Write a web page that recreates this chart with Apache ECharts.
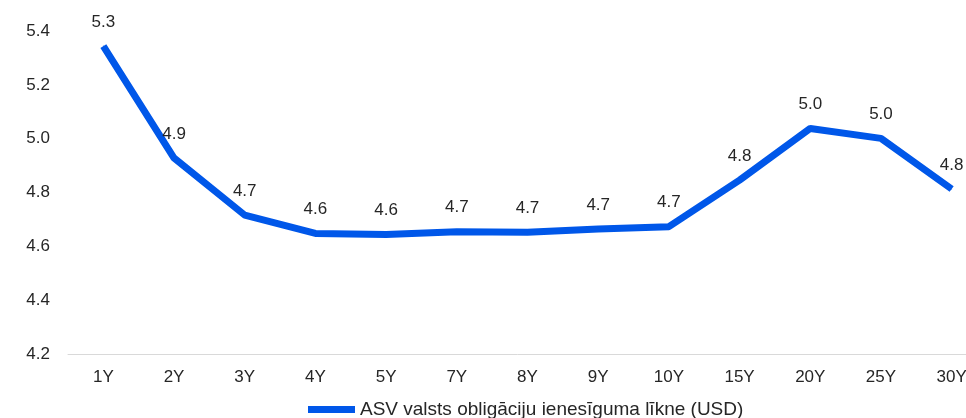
<!DOCTYPE html>
<html><head><meta charset="utf-8">
<script src="https://cdn.jsdelivr.net/npm/echarts@6/dist/echarts.min.js"></script>
<style>html,body{margin:0;padding:0;background:#fff}#c{width:966px;height:418px}</style>
</head><body><div id="c"></div>
<script>
const categories = ['1Y','2Y','3Y','4Y','5Y','7Y','8Y','9Y','10Y','15Y','20Y','25Y','30Y'];
const yields = [5.344, 4.928, 4.716, 4.648, 4.644, 4.654, 4.652, 4.664, 4.673, 4.846, 5.038, 5.001, 4.813];
const seriesName = 'ASV valsts obligāciju ienesīguma līkne (USD)';
const yTicks = {min: 4.2, max: 5.4, interval: 0.2};

const chart = echarts.init(document.getElementById('c'));
const font = 'Liberation Sans, Arial, sans-serif';
chart.setOption({
  animation: false,
  grid: {left: 68, width: 919, top: 31, bottom: 64, containLabel: false, outerBoundsMode: 'none'},
  legend: {
    left: 308, top: 400, padding: 0,
    itemWidth: 47, itemHeight: 7, icon: 'rect',
    itemStyle: {color: '#0057E9', opacity: 1},
    textStyle: {fontFamily: font, fontSize: 19, color: '#262626'},
    data: [seriesName]
  },
  xAxis: {
    type: 'category', data: categories, boundaryGap: true,
    axisLine: {show: true, lineStyle: {color: '#d9d9d9', width: 1}},
    axisTick: {show: false},
    axisLabel: {fontFamily: font, fontSize: 17, color: '#262626', margin: 15}
  },
  yAxis: {
    type: 'value', min: yTicks.min, max: yTicks.max, interval: yTicks.interval,
    splitLine: {show: false}, axisLine: {show: false}, axisTick: {show: false},
    axisLabel: {fontFamily: font, fontSize: 17, color: '#262626', margin: 18,
      formatter: v => v.toFixed(1)}
  },
  series: [{
    name: seriesName, type: 'line', data: yields,
    symbol: 'circle', symbolSize: 1, showSymbol: true, showAllSymbol: true,
    lineStyle: {width: 7, color: '#0057E9'},
    itemStyle: {color: '#0057E9'},
    label: {show: true, position: 'top', distance: 15,
      fontFamily: font, fontSize: 17, color: '#262626',
      formatter: p => p.value.toFixed(1)},
    labelLayout: {hideOverlap: false}
  }]
});
</script></body></html>
